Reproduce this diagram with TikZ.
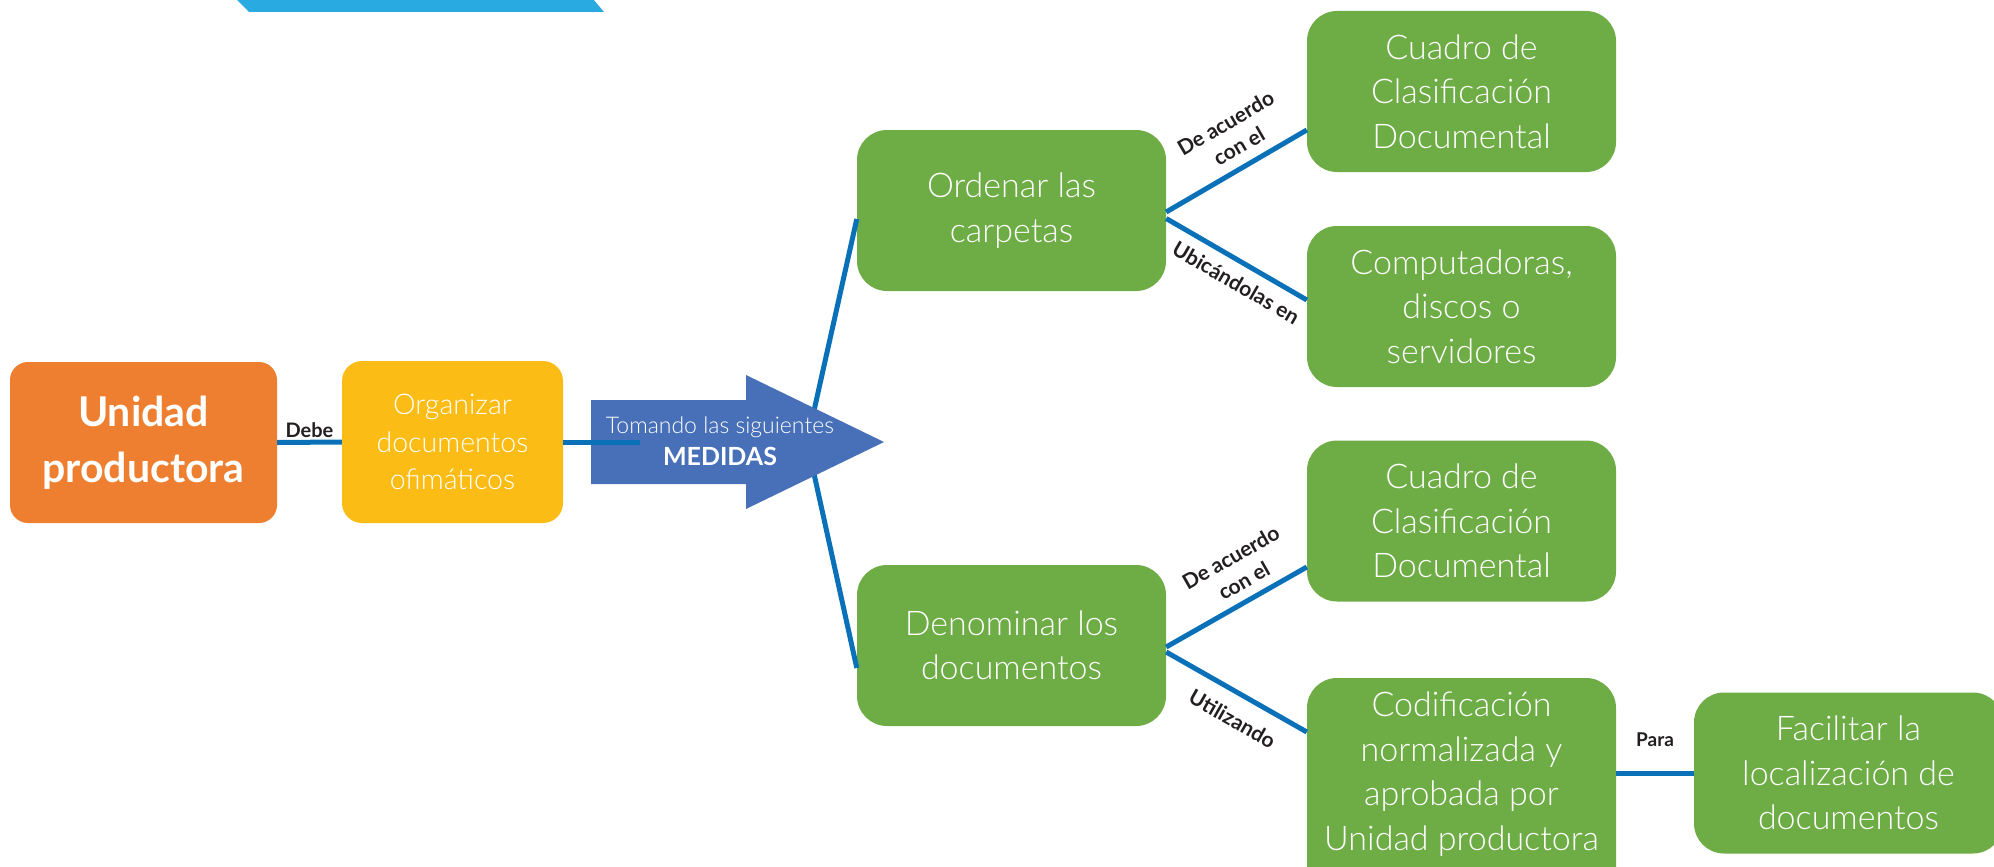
\documentclass[tikz,border=0pt]{standalone}
\usepackage{fontspec}
\setmainfont{Lato}
\newfontfamily\thinfont{Lato Light}
\usetikzlibrary{calc}
\definecolor{unitorange}{RGB}{238,127,48}
\definecolor{taskyellow}{RGB}{251,188,21}
\definecolor{stepblue}{RGB}{72,112,184}
\definecolor{leaf}{RGB}{110,172,70}
\definecolor{linkblue}{RGB}{10,113,185}
\definecolor{sky}{RGB}{41,171,226}
\definecolor{ink}{RGB}{35,31,32}
\begin{document}
\begin{tikzpicture}[x=1pt,y=-1pt,
  box/.style={rectangle, rounded corners=30pt, fill=leaf, text=white,
    minimum width=309pt, minimum height=161pt, align=center, inner sep=0pt,
    font=\thinfont\fontsize{34}{44.5}\selectfont},
  boxtext/.style={text=white, align=center, inner sep=0pt,
    font=\thinfont\fontsize{34}{44.5}\selectfont},
  link/.style={draw=linkblue, line width=5pt},
  tag/.style={font=\bfseries\fontsize{21}{26.5}\selectfont, text=ink,
    inner sep=2pt, align=center}]

\clip (0,0) rectangle (1994,867);

% banner at the top edge
\fill[sky] (217,-20) -- (577,-20) -- (604,12) -- (249,12) -- cycle;

% left chain
\node[rectangle, rounded corners=18pt, fill=unitorange, text=white,
  minimum width=267pt, minimum height=161pt, align=center,
  font=\bfseries\fontsize{41}{56}\selectfont] (unidad) at (143.5,442.5)
  {Unidad\\productora};
\node[rectangle, rounded corners=20pt, fill=taskyellow, text=white,
  minimum width=221pt, minimum height=162pt, align=center,
  font=\thinfont\fontsize{28.5}{37.5}\selectfont] (organizar) at (452.5,442)
  {Organizar\\documentos\\ofimáticos};

% second level
\node[box] (ordenar) at (1011.5,210.5) {Ordenar las\\carpetas};
\node[box] (denominar) at (1011.5,645.5) {Denominar los\\documentos};

% third level
\node[box] (cuadroA) at (1461.5,91.5) {Cuadro de\\Clasificación\\Documental};
\node[box] (compu) at (1461.5,306.5) {Computadoras,\\discos o\\servidores};
\node[box] (cuadroB) at (1461.5,521) {Cuadro de\\Clasificación\\Documental};
\node[box, minimum height=230pt] (codif) at (1461.5,793) {};
\node[boxtext] (codiftxt) at (1461.5,774)
  {Codificación\\normalizada y\\aprobada por\\Unidad productora};
\node[box] (facil) at (1848.5,773) {Facilitar la\\localización de\\documentos};

% branches behind the arrow
\coordinate (hub) at (807,442);
\draw[link] (hub) -- ([yshift=-8.5pt]ordenar.west);
\draw[link] (hub) -- ([yshift=-22.5pt]denominar.west);

% big arrow
\fill[stepblue] (591,400) -- (746,400) -- (746,375) -- (884,442)
  -- (746,509) -- (746,484) -- (591,484) -- cycle;
\node[text=white, align=center, inner sep=0pt,
  font=\fontsize{23}{32}\selectfont] (medidas) at (720,441)
  {{\thinfont Tomando las siguientes}\\{\bfseries\fontsize{25}{32}\selectfont MEDIDAS}};

% connectors
\coordinate (shaft) at (640,442);
\draw[link] (unidad.east) -- node[tag, above, font=\bfseries\fontsize{20}{24}\selectfont] {Debe} (organizar.west);
\draw[link] (organizar.east) -- (shaft);

\draw[link] ([yshift=-1.5pt]ordenar.east) --
  node[tag, sloped, above=8pt, pos=0.59] {De acuerdo\\con el}
  ([yshift=-38.5pt]cuadroA.west);
\draw[link] ([yshift=-8pt]ordenar.east) --
  node[tag, sloped, below=8pt, pos=0.57] {Ubicándolas en}
  ([yshift=6.5pt]compu.west);

\draw[link] ([yshift=-1.5pt]denominar.east) --
  node[tag, sloped, above=7pt, pos=0.62] {De acuerdo\\con el}
  ([yshift=-46pt]cuadroB.west);
\draw[link] ([yshift=-6.5pt]denominar.east) --
  node[tag, sloped, below=13pt, pos=0.56] {Utilizando}
  ([yshift=61pt]codif.west);

\draw[link] (codif.east |- facil.west) --
  node[tag, above=22pt, font=\bfseries\fontsize{19}{23}\selectfont] {Para}
  (facil.west);
\end{tikzpicture}
\end{document}
